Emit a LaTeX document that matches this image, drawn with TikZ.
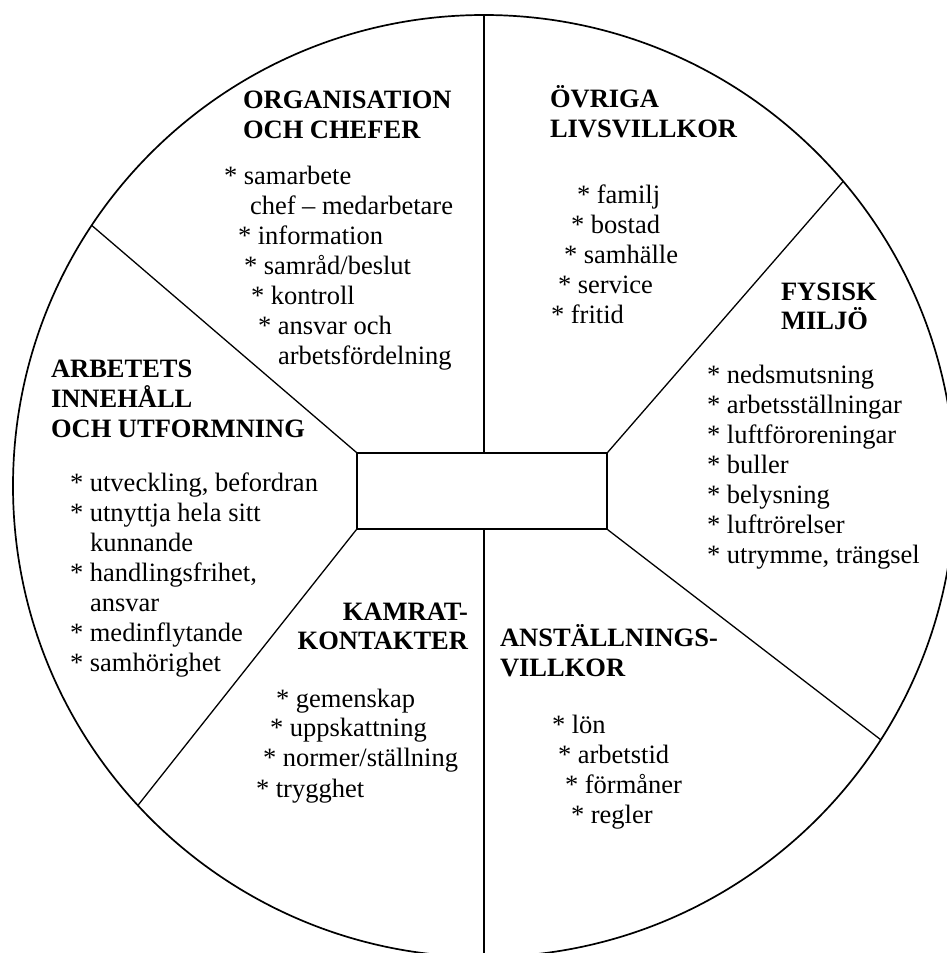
\documentclass[tikz,border=0pt]{standalone}
\usepackage{fontspec}
\setmainfont{Liberation Serif}
\usetikzlibrary{calc}
\tikzset{
  txt/.style={anchor=base west, inner sep=0pt, outer sep=0pt, font=\fontsize{26.5}{30}\selectfont},
  head/.style={txt, font=\fontsize{26.5}{30}\selectfont\bfseries},
  spoke/.style={line width=1.3pt},
  rim/.style={line width=1.7pt},
  hubbox/.style={draw, line width=1.3pt, minimum width=250pt, minimum height=76pt, inner sep=0pt}
}
\begin{document}
\begin{tikzpicture}[x=1pt,y=-1pt]
\useasboundingbox (0,0) rectangle (947,953);
\clip (0,0) rectangle (947,953);
\fill[white] (0,0) rectangle (947,953);
\coordinate (c) at (484,486);
\draw[rim] (c) circle (471pt);
\node[hubbox] (hub) at (482,491) {};
% spoke ends on the rim
\coordinate (ptop) at ($(c)+(-90:471)$);
\coordinate (pbot) at ($(c)+(90:471)$);
\coordinate (pul) at ($(c)+(213.6:471)$);
\coordinate (pll) at ($(c)+(137.3:471)$);
\coordinate (pur) at ($(c)+(-40.3:471)$);
\coordinate (plr) at ($(c)+(32.6:471)$);
\draw[spoke] (ptop) -- (ptop |- hub.north);
\draw[spoke] (pbot) -- (pbot |- hub.south);
\draw[spoke] (hub.north west) -- (pul);
\draw[spoke] (hub.south west) -- (pll);
\draw[spoke] (hub.north east) -- (pur);
\draw[spoke] (hub.south east) -- (plr);
% ORGANISATION OCH CHEFER
\node[head] (o1) at (243,108) {ORGANISATION};
\node[head] (o2) at (243,138) {OCH CHEFER};
\node[txt] (o3) at (224,184) {* samarbete};
\node[txt] (o4) at (250,214) {chef – medarbetare};
\node[txt] (o5) at (238,244) {* information};
\node[txt] (o6) at (244,274) {* samråd/beslut};
\node[txt] (o7) at (251,304) {* kontroll};
\node[txt] (o8) at (258,334) {* ansvar och};
\node[txt] (o9) at (278,364) {arbetsfördelning};
% ÖVRIGA LIVSVILLKOR
\node[head] (v1) at (550,107) {ÖVRIGA};
\node[head] (v2) at (550,137) {LIVSVILLKOR};
\node[txt] (v3) at (577,203) {* familj};
\node[txt] (v4) at (571,233) {* bostad};
\node[txt] (v5) at (564,263) {* samhälle};
\node[txt] (v6) at (558,293) {* service};
\node[txt] (v7) at (551,323) {* fritid};
% FYSISK MILJÖ
\node[head] (f1) at (781,300) {FYSISK};
\node[head] (f2) at (781,329) {MILJÖ};
\node[txt] (f3) at (707,383) {* nedsmutsning};
\node[txt] (f4) at (707,413) {* arbetsställningar};
\node[txt] (f5) at (707,443) {* luftföroreningar};
\node[txt] (f6) at (707,473) {* buller};
\node[txt] (f7) at (707,503) {* belysning};
\node[txt] (f8) at (707,533) {* luftrörelser};
\node[txt] (f9) at (707,563) {* utrymme, trängsel};
% ARBETETS INNEHÅLL OCH UTFORMNING
\node[head] (a1) at (51,377) {ARBETETS};
\node[head] (a2) at (51,407) {INNEHÅLL};
\node[head] (a3) at (51,437) {OCH UTFORMNING};
\node[txt] (a4) at (70,491) {* utveckling, befordran};
\node[txt] (a5) at (70,521) {* utnyttja hela sitt};
\node[txt] (a6) at (90,551) {kunnande};
\node[txt] (a7) at (70,581) {* handlingsfrihet,};
\node[txt] (a8) at (90,611) {ansvar};
\node[txt] (a9) at (70,641) {* medinflytande};
\node[txt] (a10) at (70,671) {* samhörighet};
% KAMRATKONTAKTER
\node[head, anchor=base east] (k1) at (468,620) {KAMRAT-};
\node[head, anchor=base east] (k2) at (468,649) {KONTAKTER};
\node[txt] (k3) at (276,707) {* gemenskap};
\node[txt] (k4) at (270,736) {* uppskattning};
\node[txt] (k5) at (263,766) {* normer/ställning};
\node[txt] (k6) at (256,797) {* trygghet};
% ANSTÄLLNINGSVILLKOR
\node[head] (n1) at (500,646) {ANSTÄLLNINGS-};
\node[head] (n2) at (500,676) {VILLKOR};
\node[txt] (n3) at (552,733) {* lön};
\node[txt] (n4) at (558,763) {* arbetstid};
\node[txt] (n5) at (565,793) {* förmåner};
\node[txt] (n6) at (571,823) {* regler};
\end{tikzpicture}
\end{document}
